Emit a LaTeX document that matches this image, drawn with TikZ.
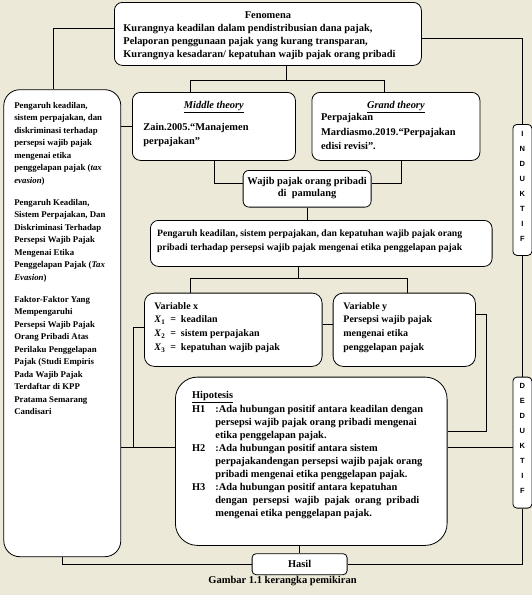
\documentclass[tikz,border=0pt]{standalone}
\usepackage{fontspec}
\setmainfont{Liberation Serif}
\setsansfont{Liberation Sans}
\usepackage{tikz}
\usetikzlibrary{positioning}
\definecolor{paper}{RGB}{236,233,216}
% fixed-size text block: width, height, top gap, left gap, text
\newcommand{\bx}[5]{\parbox[c][#2][t]{#1}{\raggedright\leftskip=#4\relax\vspace*{#3}\strut#5}}

\begin{document}
\begin{tikzpicture}[
  x=1pt, y=-1pt,
  box/.style={draw,fill=white,inner sep=0pt,anchor=north west,line width=0.8pt,
    font=\fontsize{10.4}{12.7}\selectfont\bfseries},
  letters/.style={box,rounded corners=4pt,font=\fontsize{7.5}{15}\selectfont\sffamily\bfseries},
  line/.style={line width=0.8pt}
]
\useasboundingbox (0,0) rectangle (532,595);
\fill[paper] (0,0) rectangle (532,595);

% boxes
\node[box,rounded corners=8pt] (fen) at (114,2) {\bx{307pt}{63pt}{7.7pt}{9pt}{{\centering Fenomena\par}Kurangnya keadilan dalam pendistribusian dana pajak,\\Pelaporan penggunaan pajak yang kurang transparan,\\Kurangnya kesadaran/ kepatuhan wajib pajak orang pribadi}};
\node[box,rounded corners=16pt,font=\fontsize{8.8}{12.5}\selectfont\bfseries] (leftbox) at (3.4,89.3) {\bx{117pt}{467pt}{10pt}{10.5pt}{Pengaruh keadilan,\\sistem perpajakan, dan\\diskriminasi terhadap\\persepsi wajib pajak\\mengenai etika\\penggelapan pajak (\textit{tax}\\\textit{evasion})\\[9.5pt]Pengaruh Keadilan,\\Sistem Perpajakan, Dan\\Diskriminasi Terhadap\\Persepsi Wajib Pajak\\Mengenai Etika\\Penggelapan Pajak (\textit{Tax}\\\textit{Evasion})\\[9.5pt]Faktor-Faktor Yang\\Mempengaruhi\\Persepsi Wajib Pajak\\Orang Pribadi Atas\\Perilaku Penggelapan\\Pajak (Studi Empiris\\Pada Wajib Pajak\\Terdaftar di KPP\\Pratama Semarang\\Candisari}};
\node[box,rounded corners=8pt] (mid) at (132,92) {\bx{163pt}{68pt}{7pt}{11pt}{{\centering\underline{\textit{Middle theory}}\par}\vspace{10pt}Zain.2005.“Manajemen\\[1pt]perpajakan”}};
\node[box,rounded corners=8pt] (grand) at (311.5,92) {\bx{168pt}{68pt}{7pt}{9.2pt}{{\centering\underline{\textit{Grand theory}}\par}Perpajakan\\[2pt]Mardiasmo.2019.“Perpajakan\\[1pt]edisi revisi”.}};
\node[box,rounded corners=6pt] (wajib) at (242.7,170) {\bx{128pt}{36.7pt}{4.8pt}{0pt}{\centering Wajib pajak orang pribadi\\di\ \ pamulang}};
\node[box,rounded corners=8pt,font=\fontsize{9.7}{13.5}\selectfont\bfseries] (peng) at (150,220) {\bx{341.7pt}{46pt}{7pt}{6.7pt}{Pengaruh keadilan, sistem perpajakan, dan kepatuhan wajib pajak orang\\pribadi terhadap persepsi wajib pajak mengenai etika penggelapan pajak}};
\node[box,rounded corners=10pt,font=\fontsize{10}{13.8}\selectfont\bfseries] (varx) at (144,292.7) {\bx{177.7pt}{73.3pt}{6.4pt}{10pt}{Variable x\\\textit{X}\textsubscript{1}\enspace=\enspace keadilan\\\textit{X}\textsubscript{2}\enspace=\enspace sistem perpajakan\\\textit{X}\textsubscript{3}\enspace=\enspace kepatuhan wajib pajak}};
\node[box,rounded corners=10pt,font=\fontsize{10}{13.8}\selectfont\bfseries] (vary) at (332.7,292.7) {\bx{142.3pt}{73.3pt}{6.4pt}{10.3pt}{Variable y\\Persepsi wajib pajak\\mengenai etika\\penggelapan pajak}};
\node[box,rounded corners=22pt,font=\fontsize{10.4}{13}\selectfont\bfseries] (hyp) at (175,376.7) {\bx{271.7pt}{168.3pt}{12.4pt}{16.7pt}{\underline{Hipotesis}\par
\begin{tabular}[t]{@{}p{23.3pt}@{}l@{}}
H1 & :Ada hubungan positif antara keadilan dengan\\
   & persepsi wajib pajak orang pribadi mengenai\\
   & etika penggelapan pajak.\\
H2 & :Ada hubungan positif antara sistem\\
   & perpajakandengan persepsi wajib pajak orang\\
   & pribadi mengenai etika penggelapan pajak.\\
H3 & :Ada hubungan positif antara kepatuhan\\
   & dengan\ \ persepsi\ \ wajib\ \ pajak\ \ orang\ \ pribadi\\
   & mengenai etika penggelapan pajak.
\end{tabular}}};
\node[box,rounded corners=4pt,minimum width=95pt,minimum height=21pt] (hasil) at (251.7,553.3) {Hasil};
\node[letters] (indukt) at (512.5,124) {\bx{19pt}{131pt}{1.5pt}{0pt}{\centering I\\N\\D\\U\\K\\T\\I\\F}};
\node[letters,font=\fontsize{7.5}{14.9}\selectfont\sffamily\bfseries] (dedukt) at (512.5,376.7) {\bx{19pt}{131pt}{1.2pt}{0pt}{\centering D\\E\\D\\U\\K\\T\\I\\F}};
\node[font=\fontsize{10.5}{12}\selectfont\bfseries] (caption) at (282.5,581.5) {Gambar 1.1 kerangka pemikiran};

% junctions
\coordinate (forkA) at (286,80);
\coordinate (forkB) at (298,278.3);
\coordinate (jL) at (133,447);
\coordinate (jR) at (486.7,431);

% connectors
\draw[line] ([yshift=5.5pt]fen.west) -| ([xshift=-9.4pt]leftbox.north);
\draw[line] ([yshift=-4.2pt]fen.east) -| (indukt.north);
\draw[line] (forkA |- fen.south) -- (forkA);
\draw[line] (forkA) -| ([xshift=-23.5pt]mid.north);
\draw[line] (forkA) -| ([xshift=-12pt]grand.north);
\draw[line] (mid.west) -- (mid.west -| leftbox.east);
\draw[line] (mid.south) |- ([yshift=5pt]wajib.west);
\draw[line] ([xshift=5pt]grand.south) |- ([yshift=5pt]wajib.east);
\draw[line] (wajib.south) -- (wajib.south |- peng.north);
\draw[line] (forkB |- peng.south) -- (forkB);
\draw[line] (forkB) -| ([xshift=-42.8pt]varx.north);
\draw[line] (forkB) -| ([xshift=3.2pt]vary.north);
\draw[line] ([yshift=5pt]varx.east) -- ([yshift=5pt]vary.west);
\draw[line] ([yshift=2.6pt]varx.west) -| (jL);
\draw[line] (leftbox.east |- jL) -- (hyp.west |- jL);
\draw[line] ([yshift=15pt]vary.east) -| (jR) -- (hyp.east |- jR);
\draw[line] (hyp.east |- jL) -- (dedukt.west |- jL);
\draw[line] (indukt.south) -- (dedukt.north);
\draw[line] (hasil.north |- hyp.south) -- (hasil.north);
\draw[line] (hasil.east) -| (dedukt.south);
\draw[line] (hasil.west) -| (leftbox.south);
\end{tikzpicture}
\end{document}
